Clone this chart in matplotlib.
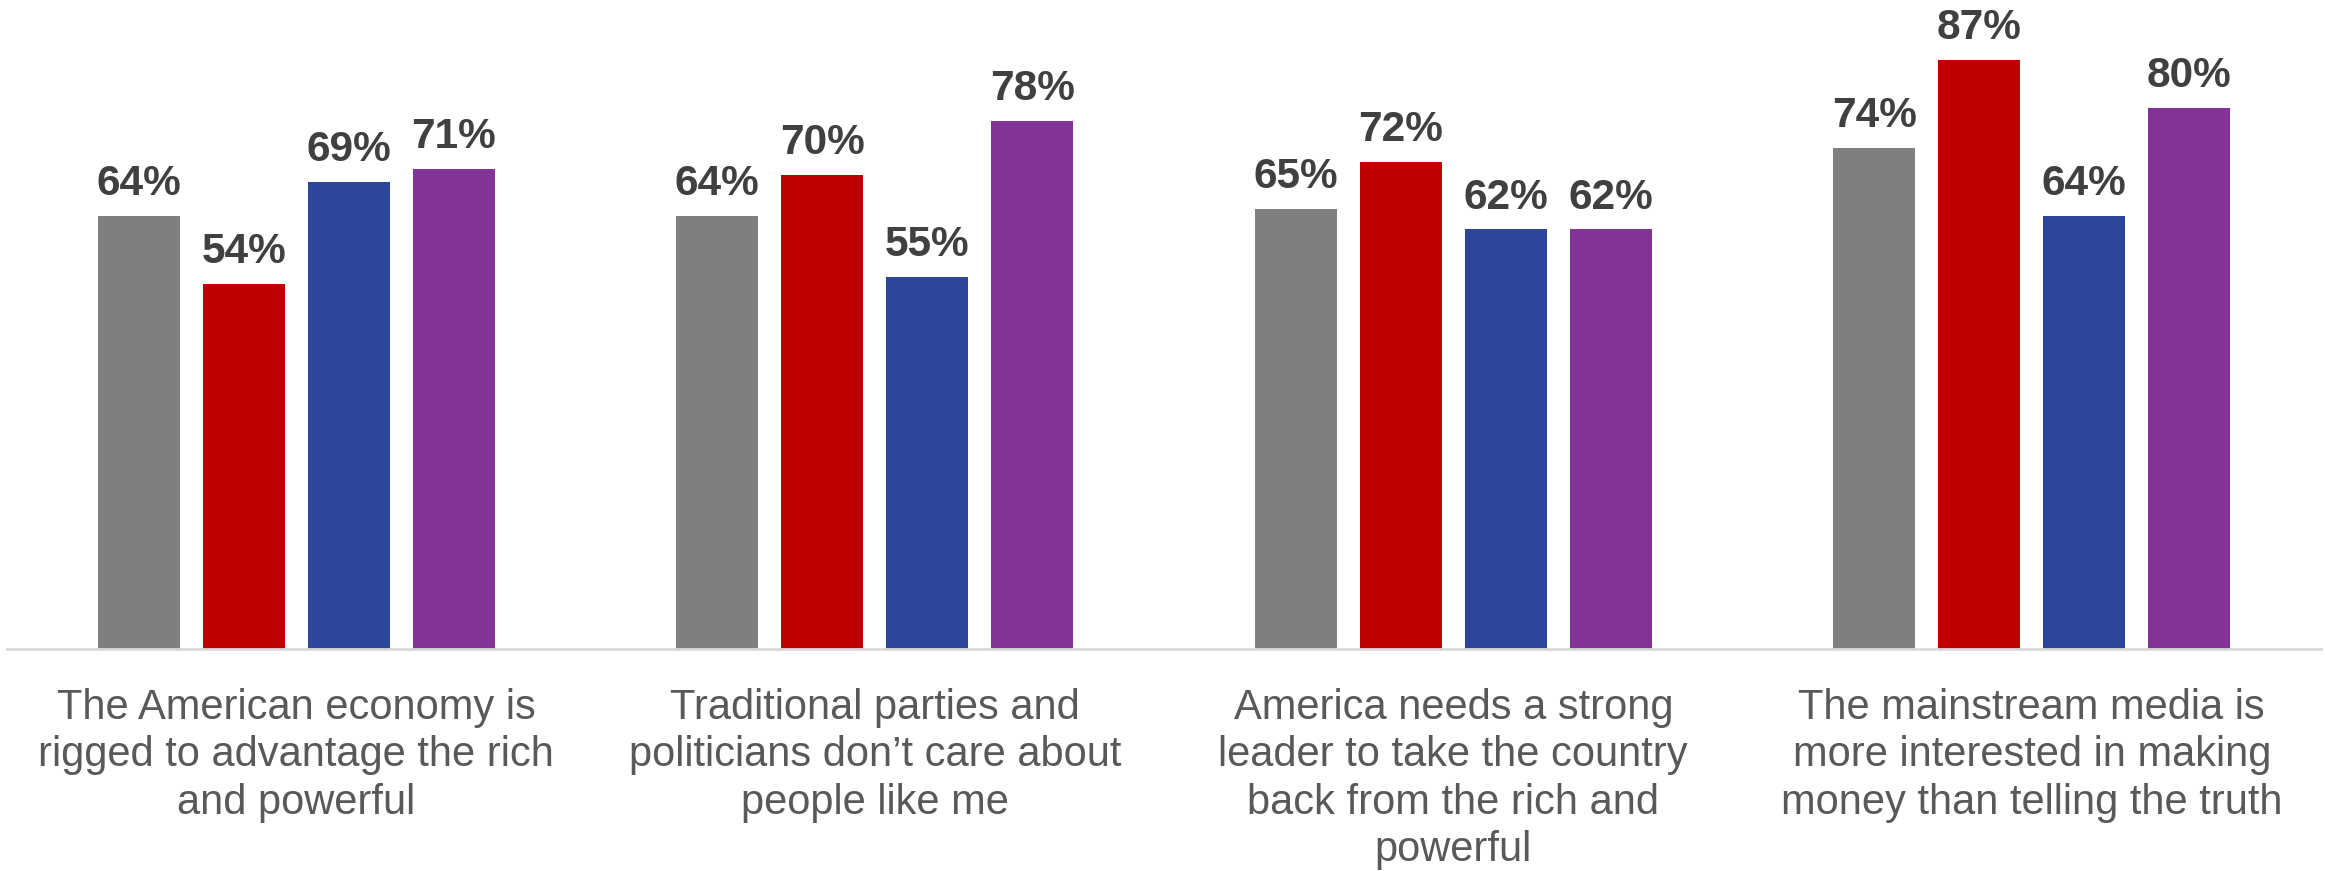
import numpy as np
import matplotlib
matplotlib.use("Agg")
import matplotlib.pyplot as plt

plt.rcParams["font.family"] = ["Liberation Sans", "DejaVu Sans"]

categories = [
    "The American economy is\nrigged to advantage the rich\nand powerful",
    "Traditional parties and\npoliticians don\u2019t care about\npeople like me",
    "America needs a strong\nleader to take the country\nback from the rich and\npowerful",
    "The mainstream media is\nmore interested in making\nmoney than telling the truth",
]
series_names = ["Total", "Republicans", "Democrats", "Independents"]
values = [
    [64, 64, 65, 74],
    [54, 70, 72, 87],
    [69, 55, 62, 64],
    [71, 78, 62, 80],
]
colors = ["#7F7F7F", "#C00000", "#2E4699", "#833298"]

fig = plt.figure(figsize=(23.25, 8.71), dpi=100)
ax = fig.add_axes([7 / 2325, (871 - 649) / 871, 2314 / 2325, 649 / 871])

x = np.arange(len(categories))
width = 0.142
step = 0.1815
for i, (name, vals, c) in enumerate(zip(series_names, values, colors)):
    pos = x + (i - 1.5) * step
    bars = ax.bar(pos, vals, width, color=c, label=name, zorder=2)
    for b, v in zip(bars, vals):
        ax.annotate(f"{v}%", (b.get_x() + b.get_width() / 2, v),
                    xytext=(0, 15), textcoords="offset points",
                    ha="center", va="baseline", fontsize=30.5,
                    fontweight="bold", color="#404040")

ax.set_xlim(-0.5, len(categories) - 0.5)
ax.set_ylim(0, 95.9)
ax.set_yticks([])
ax.set_xticks(x)
ax.set_xticklabels(categories, fontsize=30, color="#595959", linespacing=1.24)
ax.tick_params(axis="x", length=0, pad=28)
for s in ["top", "left", "right"]:
    ax.spines[s].set_visible(False)
ax.spines["bottom"].set_color("#D9D9D9")
ax.spines["bottom"].set_linewidth(2)

fig.savefig("out.png", dpi=100)
